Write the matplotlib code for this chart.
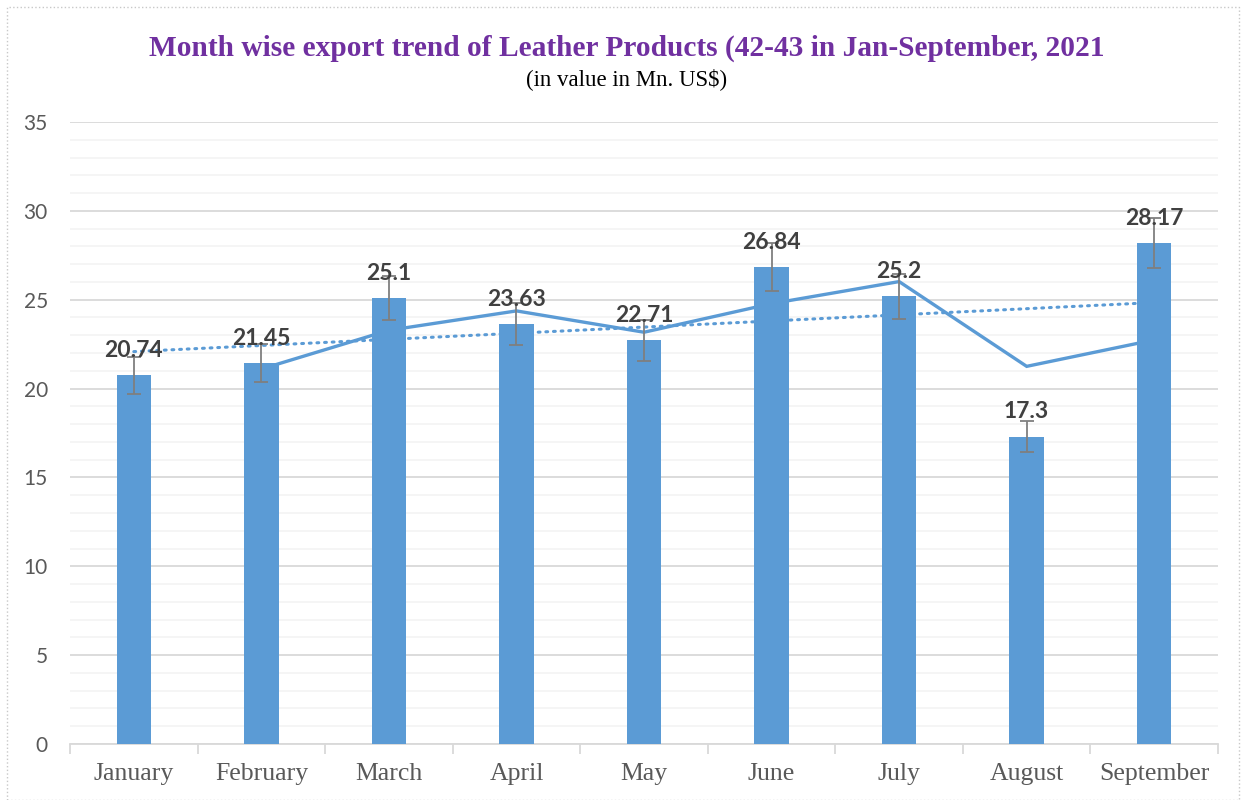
import matplotlib.pyplot as plt
from matplotlib.patches import Rectangle
from matplotlib.ticker import MultipleLocator
import numpy as np

# data
months = ['January', 'February', 'March', 'April', 'May', 'June', 'July', 'August', 'September']
values = [20.74, 21.45, 25.1, 23.63, 22.71, 26.84, 25.2, 17.3, 28.17]
errors = [1.04, 1.07, 1.26, 1.18, 1.14, 1.34, 1.26, 0.87, 1.41]
# 2-period moving average line (February .. September)
ma_months = ['February', 'March', 'April', 'May', 'June', 'July', 'August', 'September']
ma_values = [21.1, 23.28, 24.37, 23.17, 24.78, 26.02, 21.25, 22.74]
# linear trend line, first and last month
trend_months = ['January', 'September']
trend_values = [22.08, 24.84]

bar_color = '#5B9BD5'
grid_major = '#D9D9D9'
grid_minor = '#F2F2F2'

fig = plt.figure(figsize=(12.44, 8), dpi=100)
ax = fig.add_axes([0.0563, 0.07, 0.9228, 0.7775])

x = np.arange(len(months))
pos = {m: i for i, m in enumerate(months)}

# lines sit behind the bars
ax.plot([pos[m] for m in ma_months], ma_values, color=bar_color, lw=2.4,
        solid_joinstyle='miter', zorder=2)
ax.plot([pos[m] for m in trend_months], trend_values, color=bar_color, lw=2.2,
        linestyle=(0, (0.6, 1.9)), dash_capstyle='round', zorder=2)

ax.bar(x, values, width=0.27, color=bar_color, zorder=3)
ax.errorbar(x, values, yerr=errors, fmt='none', ecolor='#7F7F7F', elinewidth=1.3,
            capsize=5, capthick=1.3, zorder=4)

for i, v in enumerate(values):
    ax.annotate(f'{v:g}', (i, v), xytext=(0, 13), textcoords='offset points',
                ha='center', va='baseline', fontsize=16.5, fontweight='bold',
                color='#404040', family=['Lato', 'DejaVu Sans'], zorder=5)

ax.set_xlim(-0.5, len(months) - 0.5)
ax.set_ylim(0, 35)
ax.yaxis.set_major_locator(MultipleLocator(5))
ax.yaxis.set_minor_locator(MultipleLocator(1))
ax.grid(which='major', axis='y', color=grid_major, lw=1.3, zorder=0)
ax.grid(which='minor', axis='y', color=grid_minor, lw=1.1, zorder=0)
ax.set_axisbelow(True)

for s in ['top', 'right', 'left']:
    ax.spines[s].set_visible(False)
ax.spines['bottom'].set_color(grid_major)
ax.spines['bottom'].set_linewidth(1.3)

ax.set_xticks(np.arange(-0.5, len(months), 1.0))
ax.set_xticklabels([])
ax.set_xticks(x, minor=True)
ax.set_xticklabels(months, minor=True, fontsize=18.5, color='#595959',
                   family=['Liberation Serif'])
ax.tick_params(axis='x', which='major', length=7, color=grid_major, width=1.3)
ax.tick_params(axis='x', which='minor', length=0, pad=14)
ax.tick_params(axis='y', which='both', length=0, pad=16)
for lbl in ax.get_yticklabels():
    lbl.set_fontsize(15)
    lbl.set_color('#595959')
    lbl.set_family(['Lato', 'DejaVu Sans'])

fig.text(0.504, 0.931, 'Month wise export trend of Leather Products (42-43 in Jan-September, 2021',
         ha='center', va='baseline', fontsize=21.2, fontweight='bold', color='#7030A0',
         family=['Liberation Serif'])
fig.text(0.504, 0.894, '(in value in Mn. US$)', ha='center', va='baseline',
         fontsize=16.5, color='black', family=['Liberation Serif'])

# dotted chart frame
fig.patches.append(Rectangle((0.006, 0.0), 0.99, 0.991, transform=fig.transFigure,
                             fill=False, edgecolor='#C8C8C8', lw=1, linestyle=':'))

fig.savefig('out.png', dpi=100)
